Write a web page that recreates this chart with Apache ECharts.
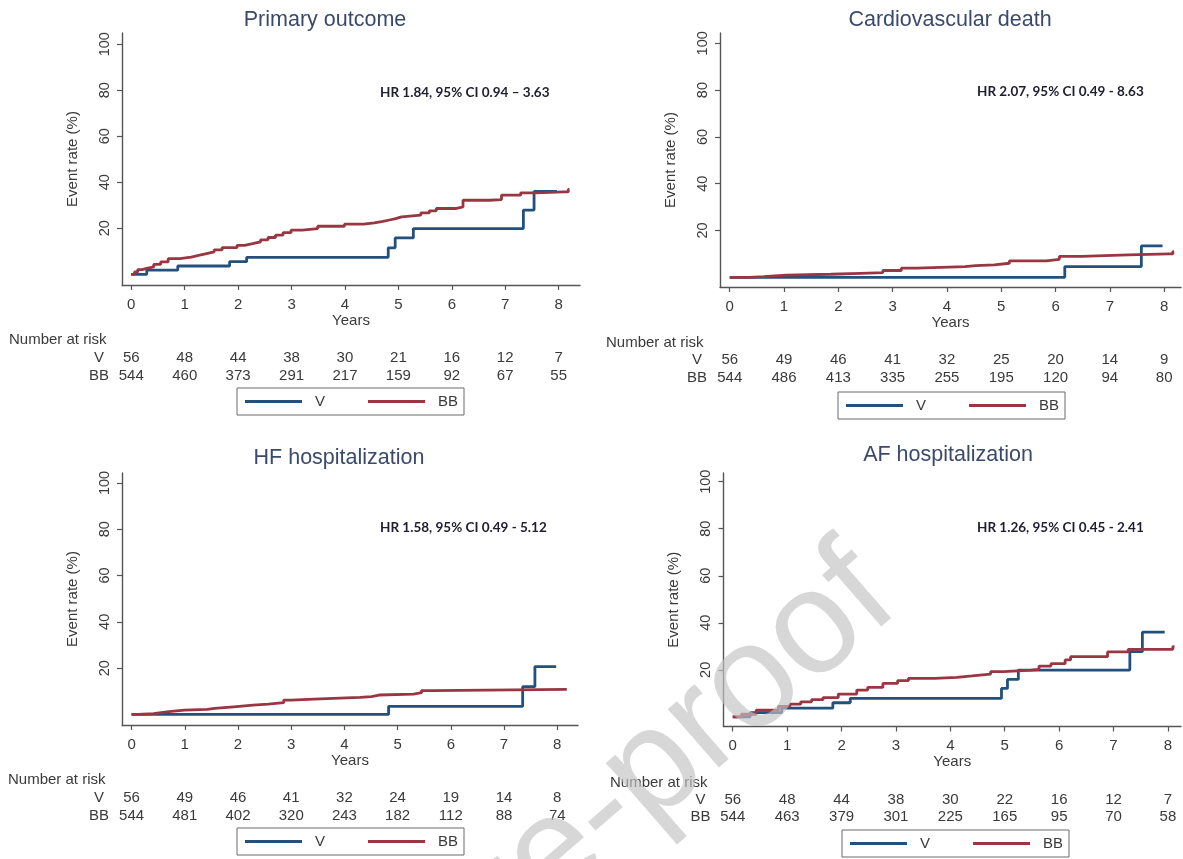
<!DOCTYPE html>
<html><head><meta charset="utf-8">
<script src="https://cdn.jsdelivr.net/npm/echarts@6/dist/echarts.min.js"></script>
<style>html,body{margin:0;padding:0;background:#fff}#c{width:1183px;height:859px}</style>
</head><body><div id="c"></div>
<script>
// ---------- DATA ----------
const titles = ['Primary outcome', 'Cardiovascular death', 'HF hospitalization', 'AF hospitalization'];
const hrLabels = ['HR 1.84, 95% CI 0.94 \u2013 3.63', 'HR 2.07, 95% CI 0.49 - 8.63', 'HR 1.58, 95% CI 0.49 - 5.12', 'HR 1.26, 95% CI 0.45 - 2.41'];
const yearTicks = [0, 1, 2, 3, 4, 5, 6, 7, 8];
const rateTicks = [20, 40, 60, 80, 100];
const seriesNames = ['V', 'BB'];

// [years, event rate %] ; value holds from that time onward
const primaryV = [[0,0],[0.29,1.8],[0.87,3.6],[1.84,5.5],[2.16,7.4],[4.81,11.5],[4.94,15.8],[5.28,19.9],[7.34,27.9],[7.54,36.0],[7.97,36.0]];
const primaryBB = [[0,0],[0.06,1.0],[0.12,2.0],[0.2,2.6],[0.29,3.2],[0.42,4.3],[0.55,5.4],[0.69,6.8],[0.91,7.5],[1.12,8.3],[1.28,9.0],[1.41,9.7],[1.55,10.6],[1.70,11.6],[1.98,12.6],[2.12,13.3],[2.27,14.1],[2.42,15.0],[2.56,16.0],[2.70,17.0],[2.84,18.1],[2.99,19.2],[3.20,19.9],[3.49,20.9],[3.99,21.8],[4.35,22.4],[4.55,23.0],[4.71,23.5],[4.81,24.2],[4.95,25.0],[5.06,25.7],[5.42,26.7],[5.58,27.6],[5.71,28.6],[6.07,29.3],[6.21,32.2],[6.71,32.5],[6.93,34.4],[7.29,35.4],[7.57,35.8],[8.10,35.8],[8.18,36.9],[8.20,36.9]];
const cvdV = [[0,0],[6.17,4.6],[7.58,13.4],[7.97,13.4]];
const cvdBB = [[0,0],[0.36,0.3],[0.63,0.9],[1.04,1.3],[1.86,1.7],[2.41,2.0],[2.82,2.9],[3.16,3.9],[3.44,4.6],[4.33,5.0],[4.53,5.3],[4.87,6.0],[5.15,7.0],[5.83,7.7],[6.07,8.9],[6.48,9.6],[7.34,10.0],[8.09,10.0],[8.16,11.0],[8.18,11.0]];
const hfV = [[0,0],[4.83,3.5],[7.35,12.0],[7.58,20.7],[7.98,20.7]];
const hfBB = [[0,0],[0.12,0.4],[0.41,1.2],[0.70,1.9],[0.99,2.2],[1.42,2.6],[1.56,3.3],[1.92,4.0],[2.28,4.5],[2.57,5.1],[2.86,6.2],[3.0,6.6],[3.43,7.4],[4.29,7.7],[4.51,8.4],[4.65,8.8],[5.30,9.4],[5.45,10.3],[5.66,10.8],[8.18,10.8]];
const afV = [[0,0],[0.32,1.8],[0.90,3.7],[1.84,6.0],[2.16,7.9],[4.94,12.1],[5.05,15.9],[5.25,19.9],[7.30,27.7],[7.53,36.0],[7.94,36.0]];
const afBB = [[0,0],[0.16,1.1],[0.43,2.8],[0.84,4.5],[1.05,5.4],[1.25,6.4],[1.45,7.3],[1.66,8.2],[1.94,9.7],[2.28,11.4],[2.48,12.5],[2.76,14.2],[3.03,15.4],[3.23,16.4],[3.71,16.8],[4.12,17.4],[4.40,18.2],[4.74,19.2],[4.98,19.9],[5.49,20.2],[5.63,21.6],[5.85,22.6],[6.11,24.2],[6.21,25.6],[6.89,27.6],[7.27,28.7],[8.05,28.7],[8.09,29.9],[8.12,29.9]];

const primaryRiskV = [56,48,44,38,30,21,16,12,7];
const primaryRiskBB = [544,460,373,291,217,159,92,67,55];
const cvdRiskV = [56,49,46,41,32,25,20,14,9];
const cvdRiskBB = [544,486,413,335,255,195,120,94,80];
const hfRiskV = [56,49,46,41,32,24,19,14,8];
const hfRiskBB = [544,481,402,320,243,182,112,88,74];
const afRiskV = [56,48,44,38,30,22,16,12,7];
const afRiskBB = [544,463,379,301,225,165,95,70,58];

const riskTitle = 'Number at risk';
const watermark = 'Journal Pre-proof';

// ---------- LAYOUT / STYLE ----------
const panelData = [
  {v: primaryV, bb: primaryBB, rv: primaryRiskV, rbb: primaryRiskBB},
  {v: cvdV, bb: cvdBB, rv: cvdRiskV, rbb: cvdRiskBB},
  {v: hfV, bb: hfBB, rv: hfRiskV, rbb: hfRiskBB},
  {v: afV, bb: afBB, rv: afRiskV, rbb: afRiskBB}
];
const layout = [
  {grid:{left:122,top:33,width:458,height:252}, x:[-0.174,8.40], y:[-4.65,104.9], title:[325,20], hr:[380,93], nar:[9,340], legend:[237,388]},
  {grid:{left:720,top:33,width:461,height:254}, x:[-0.179,8.31], y:[-4.15,104.4], title:[950,20], hr:[977,92], nar:[606,343], legend:[838,392]},
  {grid:{left:122,top:473,width:456,height:252}, x:[-0.18,8.39], y:[-4.55,104.3], title:[339,458], hr:[380,528], nar:[8,780], legend:[237,828]},
  {grid:{left:723.5,top:473,width:457.5,height:253.5}, x:[-0.17,8.24], y:[-4.1,103.7], title:[948,455], hr:[977,528], nar:[610,783], legend:[842,830]}
];
const FONT = 'Liberation Sans, Arial, sans-serif';
const colV = '#23507c';
const colBB = '#9a3641';
const axisCol = '#555';
const txtCol = '#3a3a3a';

const grids = [], xAxes = [], yAxes = [], series = [], legends = [], graphics = [];

layout.forEach((L, p) => {
  const D = panelData[p];
  grids.push(Object.assign({}, L.grid));
  xAxes.push({
    gridIndex: p, type: 'value', min: L.x[0], max: L.x[1], position: 'bottom',
    axisLine: {show: true, onZero: false, lineStyle: {color: axisCol, width: 1.4}},
    axisTick: {show: true, customValues: yearTicks, length: 5, lineStyle: {color: axisCol, width: 1.2}},
    axisLabel: {customValues: yearTicks, margin: 12, fontSize: 15, color: txtCol, fontFamily: FONT},
    splitLine: {show: false},
    name: 'Years', nameLocation: 'middle', nameGap: 27,
    nameTextStyle: {fontSize: 15, color: txtCol, fontFamily: FONT}
  });
  [[D.rv, seriesNames[0], 73.3], [D.rbb, seriesNames[1], 90.5]].forEach(([arr, nm, off]) => {
    xAxes.push({
      gridIndex: p, type: 'value', min: L.x[0], max: L.x[1], position: 'bottom', offset: off,
      axisLine: {show: false, onZero: false}, axisTick: {show: false}, splitLine: {show: false},
      axisLabel: {customValues: yearTicks, margin: 0, verticalAlign: 'middle', fontSize: 15, color: txtCol, fontFamily: FONT,
        formatter: (v) => String(arr[Math.round(v)])},
      name: nm, nameLocation: 'start', nameGap: 23,
      nameTextStyle: {align: 'center', verticalAlign: 'middle', fontSize: 15, color: txtCol, fontFamily: FONT}
    });
  });
  yAxes.push({
    gridIndex: p, type: 'value', min: L.y[0], max: L.y[1],
    axisLine: {show: true, onZero: false, lineStyle: {color: axisCol, width: 1.4}},
    axisTick: {show: true, customValues: rateTicks, length: 5, lineStyle: {color: axisCol, width: 1.2}},
    axisLabel: {customValues: rateTicks, rotate: 90, margin: 10, fontSize: 14.5, color: txtCol, fontFamily: FONT},
    splitLine: {show: false},
    name: 'Event rate (%)', nameLocation: 'middle', nameGap: 42, nameRotate: 90,
    nameTextStyle: {fontSize: 15, color: txtCol, fontFamily: FONT}
  });
  series.push({
    type: 'line', name: seriesNames[0], xAxisIndex: p * 3, yAxisIndex: p, data: D.v, step: 'end',
    showSymbol: false, symbol: 'none', silent: true, z: 2,
    lineStyle: {color: colV, width: 2.8}, itemStyle: {color: colV}
  });
  series.push({
    type: 'line', name: seriesNames[1], xAxisIndex: p * 3, yAxisIndex: p, data: D.bb, step: 'end',
    showSymbol: false, symbol: 'none', silent: true, z: 3,
    lineStyle: {color: colBB, width: 2.8}, itemStyle: {color: colBB}
  });
  legends.push({
    data: seriesNames, left: L.legend[0], top: L.legend[1], orient: 'horizontal', selectedMode: false,
    icon: 'rect', itemWidth: 57, itemHeight: 3, itemGap: 43,
    padding: [6, 6, 6, 8], borderColor: '#6a6a6a', borderWidth: 1, borderRadius: 0,
    textStyle: {fontSize: 15, color: txtCol, fontFamily: FONT, padding: [0, 0, 0, 8]}
  });
  graphics.push({type: 'text', x: L.title[0], y: L.title[1], silent: true,
    style: {text: titles[p], font: '21.5px ' + FONT, fill: '#3b4a6c', align: 'center', verticalAlign: 'middle'}});
  graphics.push({type: 'text', x: L.hr[0], y: L.hr[1], silent: true,
    style: {text: hrLabels[p], font: 'bold 13.5px Lato, ' + FONT, fill: '#1e1e30', align: 'left', verticalAlign: 'middle'}});
  graphics.push({type: 'text', x: L.nar[0], y: L.nar[1], silent: true,
    style: {text: riskTitle, font: '15px ' + FONT, fill: txtCol, align: 'left', verticalAlign: 'middle'}});
});

graphics.push({type: 'text', x: 924, y: 633, rotation: 41 * Math.PI / 180, silent: true, z: 100,
  style: {text: watermark, font: '147px ' + FONT, fill: 'rgba(195,195,195,0.66)', align: 'right', verticalAlign: 'bottom'}});

const chart = echarts.init(document.getElementById('c'), null, {renderer: 'canvas'});
chart.setOption({
  animation: false,
  backgroundColor: '#ffffff',
  grid: grids, xAxis: xAxes, yAxis: yAxes, series: series, legend: legends,
  graphic: {elements: graphics}
});
</script>
</body></html>
